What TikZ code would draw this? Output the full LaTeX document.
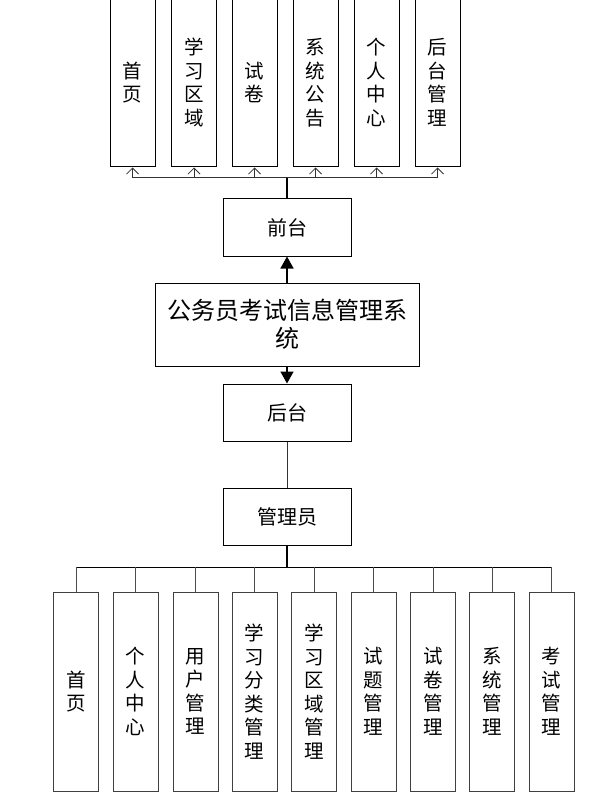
\documentclass[tikz,border=0pt]{standalone}
\usepackage{fontspec}
\setmainfont{Noto Sans CJK SC}
\usetikzlibrary{arrows.meta,positioning}

\tikzset{
  box/.style={draw,line width=1pt,minimum width=128pt,minimum height=57pt,inner sep=0pt,
    font=\fontsize{20}{24}\selectfont},
  tallbox/.style={draw,line width=1pt,minimum width=45pt,inner sep=0pt,align=center,
    font=\fontsize{19.5}{23.5}\selectfont},
  opentip/.style={-{Straight Barb[width=12pt,length=6pt]},line width=0.8pt},
  solidtip/.style={-{Triangle[width=13pt,length=12pt]},line width=1.6pt}
}

\begin{document}
\begin{tikzpicture}[x=1pt,y=-1pt]
\useasboundingbox (0,0) rectangle (613,794);
% middle column
\node[box] (qt) at (287,227.5) {前台};
\node[box,minimum width=264pt,minimum height=83pt,align=center,
  font=\fontsize{24}{28}\selectfont] (sys) at (287,324.5) {公务员考试信息管理系\\统};
\node[box] (ht) at (287,412.5) {后台};
\node[box] (gly) at (287,516.5) {管理员};
\draw[solidtip] (sys) -- (qt);
\draw[solidtip] (sys) -- (ht);
\draw[line width=1pt,black!80] (ht) -- (gly);

% front pages
\node[tallbox,minimum height=169pt] (f1) at (132.5,82.5) {首\\页};
\node[tallbox,minimum height=169pt] (f2) at (194,82.5) {学\\习\\区\\域};
\node[tallbox,minimum height=169pt] (f3) at (254.5,82.5) {试\\卷};
\node[tallbox,minimum height=169pt] (f4) at (315.5,82.5) {系\\统\\公\\告};
\node[tallbox,minimum height=169pt] (f5) at (376.5,82.5) {个\\人\\中\\心};
\node[tallbox,minimum height=169pt] (f6) at (437.5,82.5) {后\\台\\管\\理};
\coordinate (fbus) at (287,178);
\draw[line width=2pt] (qt) -- (fbus);
\draw[line width=1pt,black!80] (fbus -| f1.south) -- (fbus -| f6.south);
\foreach \n in {f1,f2,f3,f4,f5,f6}
  \draw[opentip,black!80] (fbus -| \n.south) -- (\n.south);

% admin pages
\node[tallbox,minimum height=199pt,draw=black!75] (a1) at (76,691.5) {首\\页};
\node[tallbox,minimum height=199pt,draw=black!75] (a2) at (135.5,691.5) {个\\人\\中\\心};
\node[tallbox,minimum height=199pt,draw=black!75] (a3) at (195.5,691.5) {用\\户\\管\\理};
\node[tallbox,minimum height=199pt,draw=black!75] (a4) at (254.5,691.5) {学\\习\\分\\类\\管\\理};
\node[tallbox,minimum height=199pt,draw=black!75] (a5) at (314,691.5) {学\\习\\区\\域\\管\\理};
\node[tallbox,minimum height=199pt,draw=black!75] (a6) at (373.5,691.5) {试\\题\\管\\理};
\node[tallbox,minimum height=199pt,draw=black!75] (a7) at (433,691.5) {试\\卷\\管\\理};
\node[tallbox,minimum height=199pt,draw=black!75] (a8) at (492,691.5) {系\\统\\管\\理};
\node[tallbox,minimum height=199pt,draw=black!75] (a9) at (551.5,691.5) {考\\试\\管\\理};
\coordinate (abus) at (287,567);
\draw[line width=2pt] (gly) -- (abus);
\draw[line width=1pt] (abus -| a1.north) -- (abus -| a9.north);
\foreach \n in {a1,a2,a3,a4,a5,a6,a7,a8,a9}
  \draw[line width=1pt,black!70] (abus -| \n.north) -- (\n.north);
\end{tikzpicture}
\end{document}
